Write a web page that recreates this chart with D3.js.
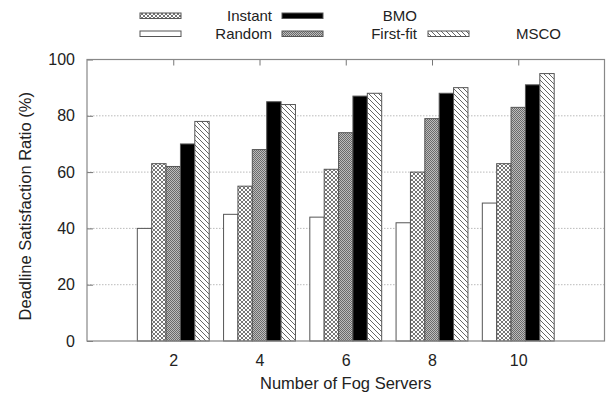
<!DOCTYPE html>
<html>
<head>
<meta charset="utf-8">
<script src="https://cdn.jsdelivr.net/npm/d3@7"></script>
<style>
  body { margin: 0; background: #fff; }
  text { font-family: "Liberation Sans", Arial, sans-serif; fill: #222; }
</style>
</head>
<body>
<div id="chart"></div>
<script>
const categories = ['2', '4', '6', '8', '10']
const seriesNames = ['Random', 'Instant', 'First-fit', 'BMO', 'MSCO']
const random = [40, 45, 44, 42, 49]
const instant = [63, 55, 61, 60, 63]
const firstFit = [62, 68, 74, 79, 83]
const bmo = [70, 85, 87, 88, 91]
const msco = [78, 84, 88, 90, 95]
const yTicks = [0, 20, 40, 60, 80, 100]

const seriesValues = [random, instant, firstFit, bmo, msco]
const fills = ['#fff', 'url(#cross)', 'url(#dots)', '#000', 'url(#diag)']

const params = {
  width: 606,
  height: 393,
  marginTop: 59.5,
  marginBottom: 52,
  marginLeft: 87,
  marginRight: 1.5,
}

const svg = d3.select('#chart')
  .append('svg')
  .attr('width', params.width)
  .attr('height', params.height)

// fill patterns
const defs = svg.append('defs')
const cross = defs.append('pattern')
  .attr('id', 'cross').attr('patternUnits', 'userSpaceOnUse')
  .attr('width', 4).attr('height', 4)
cross.append('rect').attr('width', 4).attr('height', 4).attr('fill', '#fff')
cross.append('path').attr('d', 'M0,0L4,4M4,0L0,4')
  .attr('stroke', '#666').attr('stroke-width', 0.9)

const dots = defs.append('pattern')
  .attr('id', 'dots').attr('patternUnits', 'userSpaceOnUse')
  .attr('width', 2).attr('height', 2)
dots.append('rect').attr('width', 2).attr('height', 2).attr('fill', '#bdbdbd')
dots.append('rect').attr('width', 1).attr('height', 1).attr('fill', '#6a6a6a')
dots.append('rect').attr('x', 1).attr('y', 1).attr('width', 1).attr('height', 1).attr('fill', '#6a6a6a')

const diag = defs.append('pattern')
  .attr('id', 'diag').attr('patternUnits', 'userSpaceOnUse')
  .attr('width', 5).attr('height', 5)
diag.append('rect').attr('width', 5).attr('height', 5).attr('fill', '#fff')
diag.append('path').attr('d', 'M-1,-1L6,6M-1,4L1,6M4,-1L6,1')
  .attr('stroke', '#555').attr('stroke-width', 0.9)

const x = d3.scaleLinear()
  .domain([-1, categories.length])
  .range([params.marginLeft, params.width - params.marginRight])

const y = d3.scaleLinear()
  .domain([0, 100])
  .range([params.height - params.marginBottom, params.marginTop])

const slot = 1 / 6

// grid lines
svg.append('g')
  .selectAll('line')
  .data(yTicks.filter(d => d > 0 && d < 100))
  .enter()
  .append('line')
  .attr('x1', x(-1)).attr('x2', x(categories.length))
  .attr('y1', d => y(d)).attr('y2', d => y(d))
  .attr('stroke', '#aaa')
  .attr('stroke-width', 0.8)
  .attr('stroke-dasharray', '1.5,1.5')

// tick marks
const axisLeft = svg.append('g')
  .attr('transform', `translate(${params.marginLeft},0)`)
  .call(d3.axisLeft(y).tickValues(yTicks).tickSize(-6).tickPadding(12))
axisLeft.select('.domain').remove()
axisLeft.selectAll('line').attr('stroke', '#777')
axisLeft.selectAll('text').style('font-size', '16px').attr('fill', '#222')

const axisBottom = svg.append('g')
  .attr('transform', `translate(0,${y(0)})`)
  .call(d3.axisBottom(x).tickValues(d3.range(categories.length))
    .tickFormat(i => categories[i]).tickSize(-6).tickPadding(14))
axisBottom.select('.domain').remove()
axisBottom.selectAll('line').attr('stroke', '#777')
axisBottom.selectAll('text').style('font-size', '16px').attr('fill', '#222')

const axisTop = svg.append('g')
  .attr('transform', `translate(0,${y(100)})`)
  .call(d3.axisTop(x).tickValues(d3.range(categories.length))
    .tickFormat('').tickSize(-6))
axisTop.select('.domain').remove()
axisTop.selectAll('line').attr('stroke', '#777')

// bars
seriesValues.forEach((vals, s) => {
  svg.append('g')
    .selectAll('rect')
    .data(vals)
    .enter()
    .append('rect')
    .attr('x', (d, i) => x(i + (s - 2.5) * slot))
    .attr('width', x(slot) - x(0))
    .attr('y', d => y(d))
    .attr('height', d => y(0) - y(d))
    .attr('fill', fills[s])
    .attr('stroke', '#555')
    .attr('stroke-width', 1)
})

// frame
svg.append('rect')
  .attr('x', x(-1)).attr('y', y(100))
  .attr('width', x(categories.length) - x(-1))
  .attr('height', y(0) - y(100))
  .attr('fill', 'none')
  .attr('stroke', '#888')
  .attr('stroke-width', 1.2)

// axis titles
svg.append('text')
  .attr('x', (x(-1) + x(categories.length)) / 2)
  .attr('y', 389)
  .attr('text-anchor', 'middle')
  .style('font-size', '16.5px')
  .text('Number of Fog Servers')

svg.append('text')
  .attr('transform', `translate(31,${(y(0) + y(100)) / 2 + 6}) rotate(-90)`)
  .attr('text-anchor', 'middle')
  .style('font-size', '16.5px')
  .text('Deadline Satisfaction Ratio (%)')

// legend
const legendItems = [
  { s: 1, sx: 140, lx: 272, y: 16 },
  { s: 3, sx: 282, lx: 417, y: 16 },
  { s: 0, sx: 140, lx: 272, y: 34 },
  { s: 2, sx: 282, lx: 417, y: 34 },
  { s: 4, sx: 428, lx: 561, y: 34 },
]
const legend = svg.append('g')
legend.selectAll('rect')
  .data(legendItems)
  .enter()
  .append('rect')
  .attr('x', d => d.sx).attr('y', d => d.y - 3)
  .attr('width', 41).attr('height', 5.5)
  .attr('fill', d => fills[d.s])
  .attr('stroke', '#555')
legend.selectAll('text')
  .data(legendItems)
  .enter()
  .append('text')
  .attr('x', d => d.lx).attr('y', d => d.y + 5)
  .attr('text-anchor', 'end')
  .style('font-size', '15px')
  .text(d => seriesNames[d.s])
</script>
</body>
</html>
